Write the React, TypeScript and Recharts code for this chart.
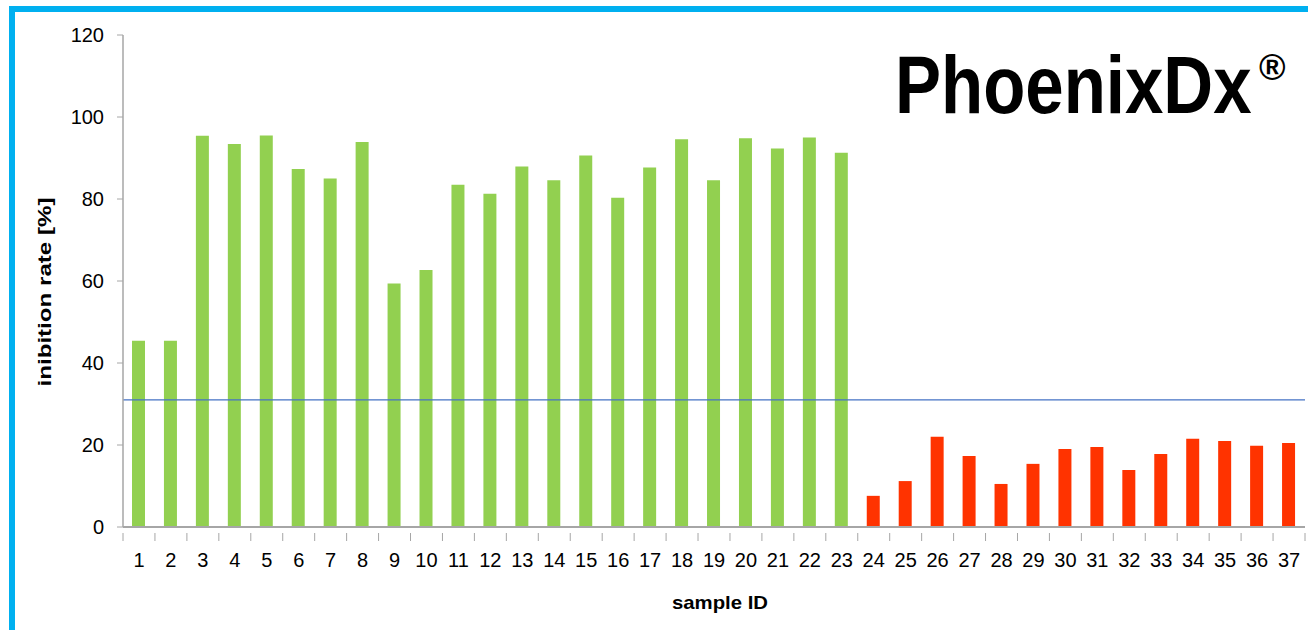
import React from 'react';
import { BarChart, Bar, XAxis, YAxis, ReferenceLine } from 'recharts';

// sample numbers on the x axis
const sampleIds = Array.from({ length: 37 }, (_, i) => String(i + 1));

// inhibition rate [%] for samples 1-23 (above cut-off, green)
const positiveRates = [
  45.4, 45.4, 95.4, 93.4, 95.5, 87.3, 85.0, 93.9, 59.4, 62.7,
  83.5, 81.3, 87.9, 84.6, 90.6, 80.3, 87.7, 94.6, 84.6, 94.8,
  92.3, 95.0, 91.3,
];

// inhibition rate [%] for samples 24-37 (below cut-off, red)
const negativeRates = [
  7.6, 11.2, 22.0, 17.3, 10.5, 15.4, 19.0, 19.5, 13.9, 17.8,
  21.5, 21.0, 19.8, 20.5,
];

const yTicks = [0, 20, 40, 60, 80, 100, 120];
const cutOff = 31;

const data = sampleIds.map((id, i) => ({
  id,
  pos: i < positiveRates.length ? positiveRates[i] : null,
  neg: i >= positiveRates.length ? negativeRates[i - positiveRates.length] : null,
}));

const FONT = '"Liberation Sans", Arial, sans-serif';
const AXIS_GREY = '#a6a6a6';

// x tick: label in the middle, tick marks on the category borders (Excel style)
const SampleTick = (props: any) => {
  const { x, y, payload, index } = props;
  const half = payload && payload.offset ? payload.offset : 16;
  return (
    <g>
      <line x1={x - half} x2={x - half} y1={y - 2} y2={y + 6} stroke={AXIS_GREY} />
      {index === sampleIds.length - 1 && (
        <line x1={x + half} x2={x + half} y1={y - 2} y2={y + 6} stroke={AXIS_GREY} />
      )}
      <text x={x} y={y + 18} dy="0.71em" textAnchor="middle" fontSize={20} fill="#000" fontFamily={FONT}>
        {payload.value}
      </text>
    </g>
  );
};

const YTitle = (props: any) => {
  const vb = props.viewBox || {};
  const cy = vb.y + vb.height / 2 + 11;
  return (
    <text
      x={51}
      y={cy}
      transform={`rotate(-90, 51, ${cy})`}
      textAnchor="middle"
      fontSize={19}
      fontWeight="bold"
      fontFamily={FONT}
      fill="#000"
      textLength={189}
      lengthAdjust="spacingAndGlyphs"
    >
      inibition rate [%]
    </text>
  );
};

const XTitle = (props: any) => {
  const vb = props.viewBox || {};
  const cx = vb.x + vb.width / 2 + 6;
  return (
    <text
      x={cx}
      y={609}
      textAnchor="middle"
      fontSize={19}
      fontWeight="bold"
      fontFamily={FONT}
      fill="#000"
      textLength={96}
      lengthAdjust="spacingAndGlyphs"
    >
      sample ID
    </text>
  );
};

export default function App() {
  return (
    <div style={{ position: 'absolute', left: 0, top: 0, width: 1308, height: 630, overflow: 'hidden', background: '#fff' }}>
      <div
        style={{
          position: 'absolute',
          left: 9,
          top: 6,
          width: 1400,
          height: 700,
          borderLeft: '6px solid #00B0F0',
          borderTop: '6px solid #00B0F0',
        }}
      />
      <div style={{ position: 'absolute', left: 0, top: 0 }}>
        <BarChart
          width={1308}
          height={630}
          data={data}
          margin={{ top: 35, right: 3, bottom: 0, left: 0 }}
          barSize={13}
        >
          <XAxis
            dataKey="id"
            height={103}
            interval={0}
            axisLine={{ stroke: AXIS_GREY, strokeWidth: 2 }}
            tickLine={false}
            tick={<SampleTick />}
            label={<XTitle />}
          />
          <YAxis
            width={123}
            domain={[0, 120]}
            ticks={yTicks}
            interval={0}
            tickSize={6}
            tickMargin={13}
            axisLine={{ stroke: AXIS_GREY, strokeWidth: 1.5 }}
            tickLine={{ stroke: AXIS_GREY }}
            tick={{ fontSize: 20, fill: '#000', fontFamily: FONT }}
            label={<YTitle />}
          />
          <Bar dataKey="pos" stackId="s" fill="#92D050" isAnimationActive={false} />
          <Bar dataKey="neg" stackId="s" fill="#FF3300" isAnimationActive={false} />
          <ReferenceLine y={cutOff} stroke="#4472C4" strokeWidth={1.2} />
        </BarChart>
      </div>
      <svg style={{ position: 'absolute', left: 0, top: 0 }} width={1308} height={630}>
        <g transform="translate(895, 113) scale(1, 1.17)">
          <text x={0} y={0} fontSize={69} fontWeight="bold" fontFamily={FONT} fill="#000">
            PhoenixDx
          </text>
        </g>
        <text x={1259} y={80} fontSize={36} fontWeight="bold" fontFamily={FONT} fill="#000">
          ®
        </text>
      </svg>
    </div>
  );
}
